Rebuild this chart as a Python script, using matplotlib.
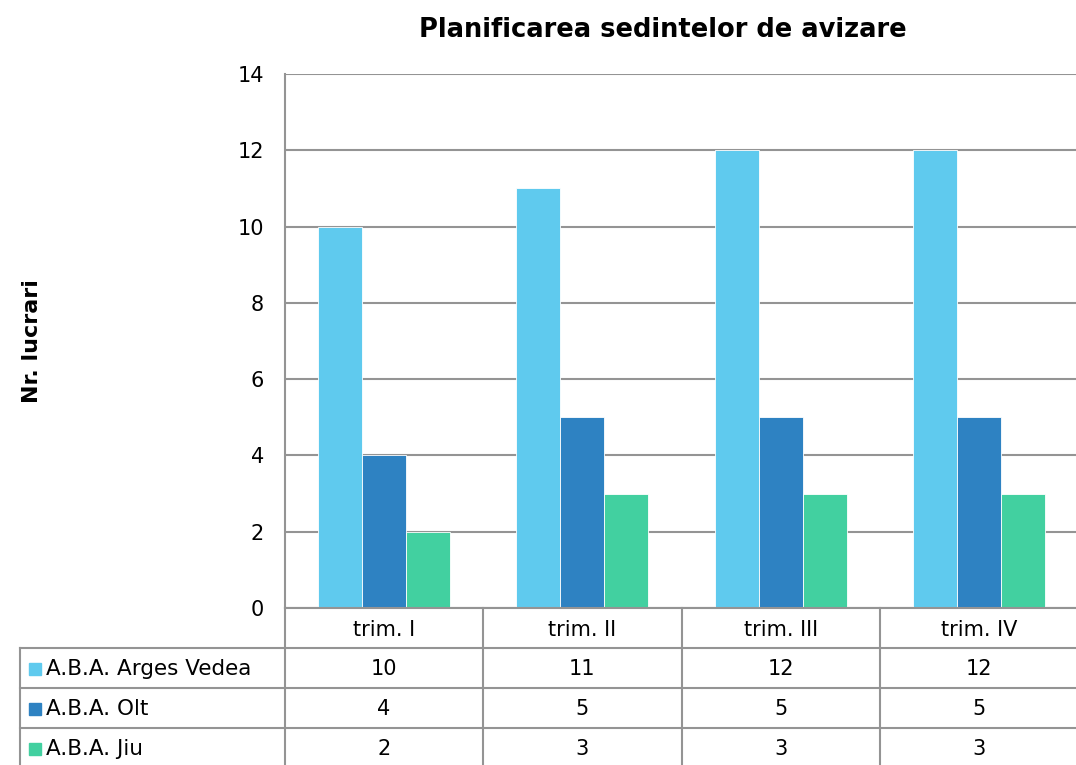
import matplotlib
matplotlib.use("Agg")
import matplotlib.pyplot as plt
import numpy as np
from matplotlib.lines import Line2D
from matplotlib.patches import Rectangle
import matplotlib.transforms as mtransforms

categories = ["trim. I", "trim. II", "trim. III", "trim. IV"]
series_names = ["A.B.A. Arges Vedea", "A.B.A. Olt", "A.B.A. Jiu"]
arges = [10, 11, 12, 12]
olt = [4, 5, 5, 5]
jiu = [2, 3, 3, 3]
yticks = [0, 2, 4, 6, 8, 10, 12, 14]
title = "Planificarea sedintelor de avizare"
ylabel = "Nr. lucrari"

colors = ["#5FCAEE", "#2E82C2", "#42D0A0"]
grid_c = "#949494"

W, H = 1076, 765
fig = plt.figure(figsize=(W / 100, H / 100), dpi=100)
plt.rcParams['font.family'] = ['DejaVu Sans']

def fx(px):
    return px / W

def fy(py):
    return 1 - py / H

ax = fig.add_axes([fx(285), fy(608), fx(1078) - fx(285), fy(74) - fy(608)])

x = np.arange(len(categories))
bw = 0.222
series = [arges, olt, jiu]
for i, (vals, c) in enumerate(zip(series, colors)):
    ax.bar(x + (i - 1) * bw, vals, width=bw, color=c, edgecolor="white",
           linewidth=0.6, zorder=3)

ax.set_xlim(-0.5, len(categories) - 0.5)
ax.set_ylim(0, 14)
ax.set_yticks(yticks)
ax.set_yticklabels([str(v) for v in yticks], fontsize=15)
ax.tick_params(axis="y", length=0, pad=15)
ax.set_xticks([])
ax.grid(axis="y", color=grid_c, linewidth=1.5, zorder=0)
for s in ["top", "right", "bottom"]:
    ax.spines[s].set_visible(False)
ax.spines["left"].set_color(grid_c)
ax.spines["left"].set_linewidth(1.5)

fig.text(fx(663), fy(30), title, ha="center", va="center", fontsize=18.5,
         fontweight="bold")
fig.text(fx(32), fy(341), ylabel, rotation=90, ha="center", va="center",
         fontsize=16, fontweight="bold")

# data table
tr = mtransforms.blended_transform_factory(ax.transData, fig.transFigure)
lw = 1.5
row_tops = [608, 648, 688, 728]
row_bottom = 770
fs_tab = 15
# horizontal lines
for i, yy in enumerate(row_tops):
    if i == 0:
        fig.add_artist(Line2D([-0.5, len(categories) - 0.5], [fy(yy), fy(yy)],
                              transform=tr, color=grid_c, lw=lw))
    else:
        fig.add_artist(Line2D([fx(20), 1], [fy(yy), fy(yy)],
                              transform=fig.transFigure, color=grid_c, lw=lw))
# vertical lines
for b in np.arange(len(categories)) - 0.5:
    fig.add_artist(Line2D([b, b], [fy(608), fy(row_bottom)], transform=tr,
                          color=grid_c, lw=lw))
fig.add_artist(Line2D([fx(20), fx(20)], [fy(648), fy(row_bottom)],
                      transform=fig.transFigure, color=grid_c, lw=lw))

# header
for xi, cat in zip(x, categories):
    fig.text(xi, fy(630), cat, transform=tr, ha="center", va="center",
             fontsize=fs_tab)
# rows
for r, (name, vals, c) in enumerate(zip(series_names, series, colors)):
    yc = fy((row_tops[r + 1] + (row_tops[r + 2] if r + 2 < len(row_tops) else 768)) / 2 + 1)
    fig.add_artist(Rectangle((fx(29), yc - 6 / H), 12 / W, 12 / H,
                             transform=fig.transFigure, color=c))
    fig.text(fx(46), yc, name, ha="left", va="center", fontsize=fs_tab + 0.5)
    for xi, v in zip(x, vals):
        fig.text(xi, yc, str(v), transform=tr, ha="center", va="center",
                 fontsize=fs_tab)

fig.savefig("out.png", dpi=100)
